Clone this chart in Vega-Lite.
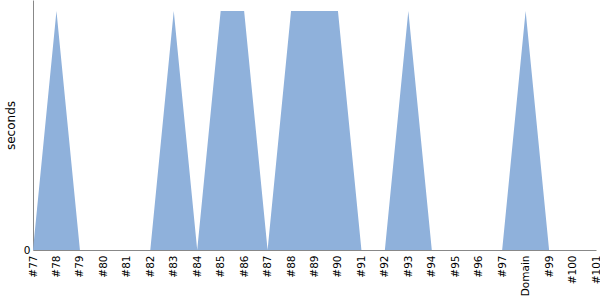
{
  "$schema": "https://vega.github.io/schema/vega-lite/v6.json",
  "autosize": "none",
  "width": 563,
  "height": 250,
  "padding": {"left": 33, "top": 0, "right": 4, "bottom": 50},
  "config": {"view": {"stroke": null}, "font": "DejaVu Sans"},
  "data": {"values": [
    {"build": "#77", "seconds": 0},
    {"build": "#78", "seconds": 1},
    {"build": "#79", "seconds": 0},
    {"build": "#80", "seconds": 0},
    {"build": "#81", "seconds": 0},
    {"build": "#82", "seconds": 0},
    {"build": "#83", "seconds": 1},
    {"build": "#84", "seconds": 0},
    {"build": "#85", "seconds": 1},
    {"build": "#86", "seconds": 1},
    {"build": "#87", "seconds": 0},
    {"build": "#88", "seconds": 1},
    {"build": "#89", "seconds": 1},
    {"build": "#90", "seconds": 1},
    {"build": "#91", "seconds": 0},
    {"build": "#92", "seconds": 0},
    {"build": "#93", "seconds": 1},
    {"build": "#94", "seconds": 0},
    {"build": "#95", "seconds": 0},
    {"build": "#96", "seconds": 0},
    {"build": "#97", "seconds": 0},
    {"build": "Domain", "seconds": 1},
    {"build": "#99", "seconds": 0},
    {"build": "#100", "seconds": 0},
    {"build": "#101", "seconds": 0}
  ]},
  "mark": {"type": "area", "color": "#8fb1db", "opacity": 1},
  "encoding": {
    "x": {
      "field": "build", "type": "nominal", "sort": null,
      "scale": {"type": "point", "padding": 0},
      "axis": {"title": null, "labelAngle": -90, "ticks": false, "grid": false,
               "domainColor": "#888", "labelFontSize": 10.5, "labelColor": "#000", "labelPadding": 5}
    },
    "y": {
      "field": "seconds", "type": "quantitative",
      "scale": {"domain": [0, 1.046], "nice": false},
      "axis": {"title": "seconds", "values": [0], "ticks": false, "grid": false,
               "domainColor": "#888", "labelFontSize": 10.5, "labelColor": "#000",
               "titleFontSize": 12, "titleFontWeight": "normal", "titleColor": "#000",
               "labelPadding": 3, "titlePadding": 6}
    }
  }
}
